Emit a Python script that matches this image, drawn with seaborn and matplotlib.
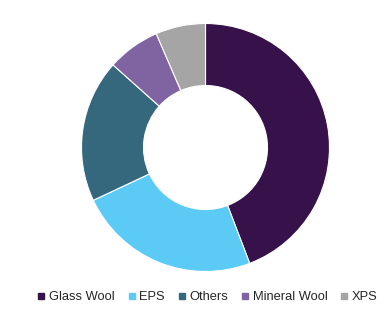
import matplotlib
matplotlib.use("Agg")
import matplotlib.pyplot as plt
from matplotlib.lines import Line2D
import seaborn as sns

categories = ["Glass Wool", "EPS", "Others", "Mineral Wool", "XPS"]
values = [44.2, 23.8, 18.6, 6.9, 6.5]
colors_hex = ["#37114A", "#5BCBF5", "#36687D", "#8064A2", "#A5A5A5"]

sns.set_theme(style="white")
plt.rcParams["font.family"] = ["Liberation Sans", "DejaVu Sans"]
palette = sns.color_palette(colors_hex)

W, H = 385, 312
fig = plt.figure(figsize=(W / 100, H / 100), dpi=100)
cx, cy, r = 205.5, 147.5, 124
ax = fig.add_axes([(cx - r) / W, 1 - (cy + r) / H, 2 * r / W, 2 * r / H])
ax.pie(values, colors=palette, startangle=90, counterclock=False, radius=1,
       wedgeprops=dict(width=0.5, edgecolor="white", linewidth=0.8))
ax.set_xlim(-1, 1)
ax.set_ylim(-1, 1)
ax.set_aspect("equal")
ax.axis("off")

handles = [Line2D([0], [0], marker="s", linestyle="", markersize=4,
                  markerfacecolor=c, markeredgecolor=c) for c in palette]
fig.legend(handles, categories, loc="center", bbox_to_anchor=(208 / W, 1 - 297 / H),
           ncol=5, frameon=False, fontsize=9.3, handlelength=0.5,
           handletextpad=0.35, columnspacing=1.05, borderaxespad=0, borderpad=0)

fig.savefig("out.png", dpi=100)
